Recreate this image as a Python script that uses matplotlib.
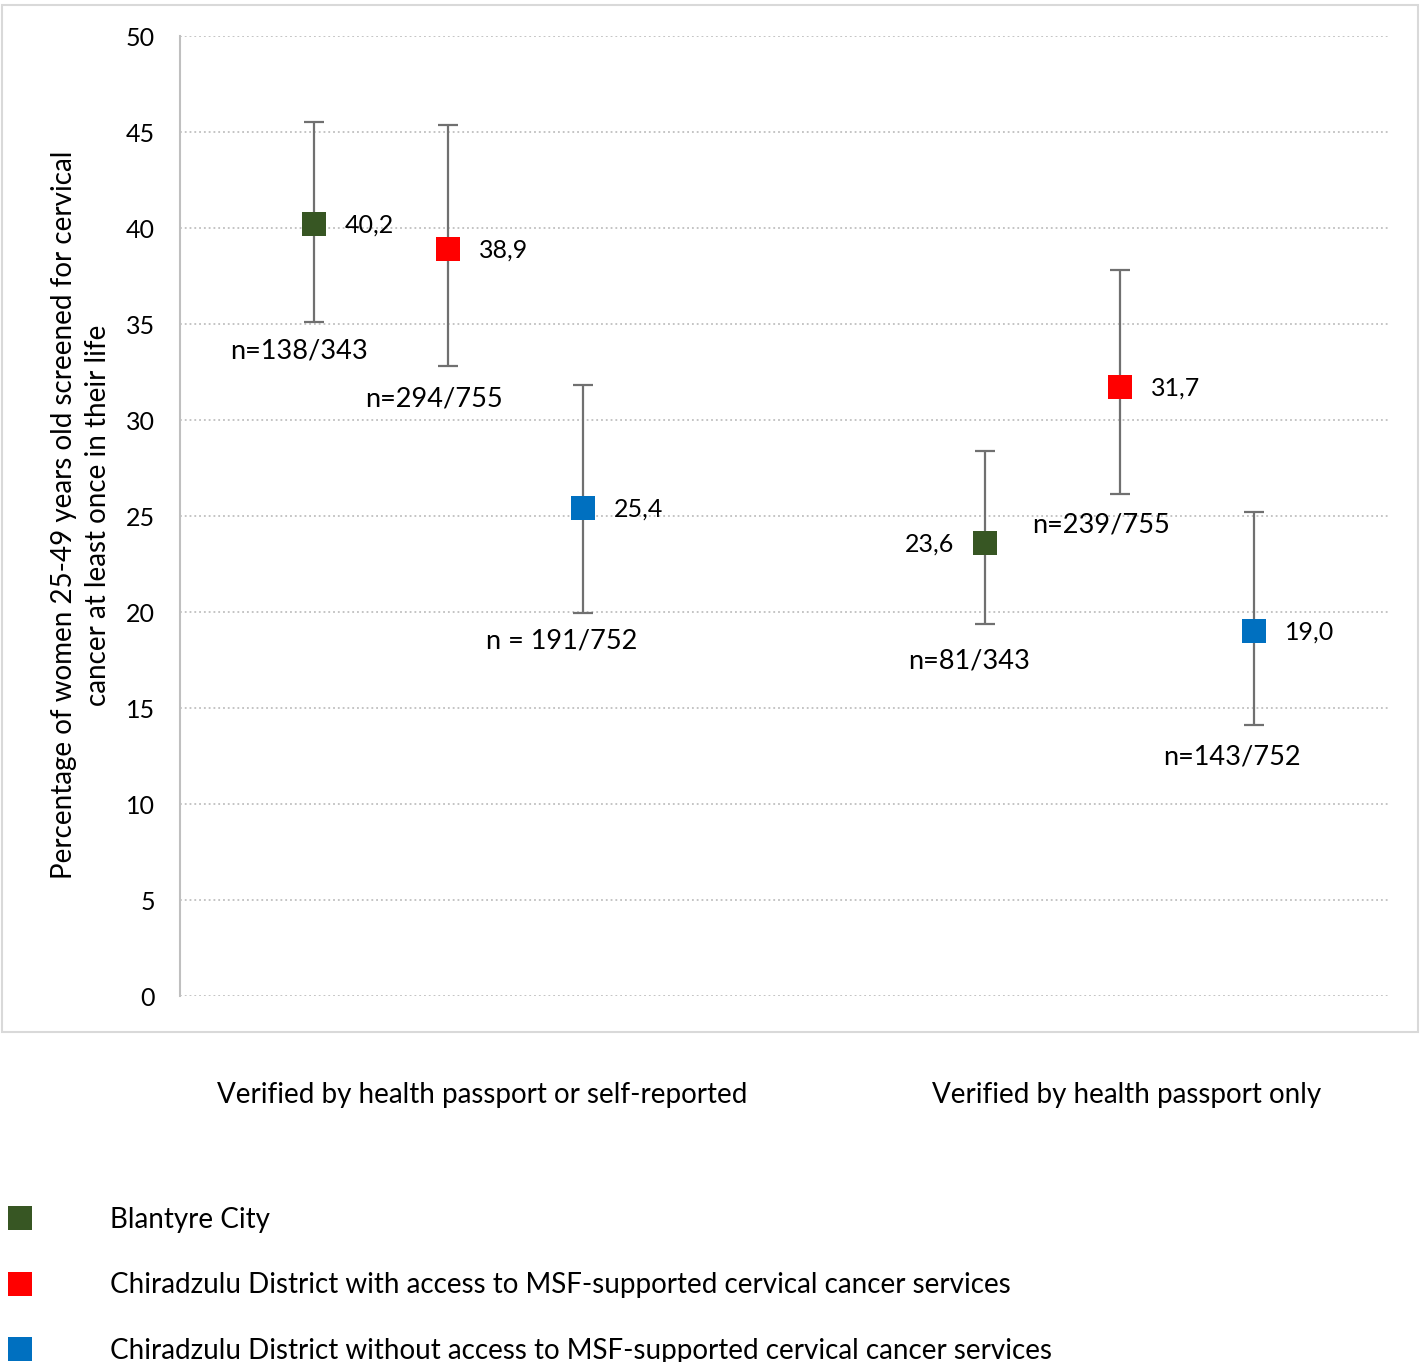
import matplotlib
matplotlib.use("Agg")
import matplotlib.pyplot as plt
from matplotlib.patches import Rectangle
import numpy as np

plt.rcParams['font.family'] = ['Lato', 'DejaVu Sans']

categories = ["Verified by health passport or self-reported", "Verified by health passport only"]
series_names = ["Blantyre City",
                "Chiradzulu District with access to MSF-supported cervical cancer services",
                "Chiradzulu District without access to MSF-supported cervical cancer services"]
values = [[40.2, 23.6], [38.9, 31.7], [25.4, 19.0]]
ci_low = [[35.1, 19.4], [32.8, 26.15], [19.95, 14.1]]
ci_high = [[45.5, 28.4], [45.35, 37.8], [31.8, 25.2]]
value_text = [["40,2", "23,6"], ["38,9", "31,7"], ["25,4", "19,0"]]
n_text = [["n=138/343", "n=81/343"], ["n=294/755", "n=239/755"], ["n = 191/752", "n=143/752"]]
yticks = [0, 5, 10, 15, 20, 25, 30, 35, 40, 45, 50]

colors = ['#375623', '#FF0000', '#0070C0']
# label offsets (pixels) relative to marker
val_off = [[(31, -1, 'left'), (-31, -1, 'right')], [(31, -1, 'left'), (31, -1, 'left')], [(31, -1, 'left'), (31, -1, 'left')]]
n_off = [[(-15, -127), (-16, -118)], [(-15, -150), (-19, -138)], [(-21, -133), (-22, -126)]]

W, H = 1424, 1362
fig = plt.figure(figsize=(W / 100, H / 100), dpi=100)
ax = fig.add_axes([180 / W, 1 - 996 / H, (1388 - 180) / W, (996 - 36) / H])

fig.patches.append(Rectangle((2 / W, 1 - 1032 / H), 1416 / W, 1027 / H, transform=fig.transFigure,
                             fill=False, edgecolor='#D9D9D9', linewidth=1.5))

handles = []
for s in range(3):
    xs = np.array([1 + s + 5 * c for c in range(2)], dtype=float)
    ys = np.array(values[s])
    lo = ys - np.array(ci_low[s])
    hi = np.array(ci_high[s]) - ys
    ax.errorbar(xs, ys, yerr=[lo, hi], fmt='none', ecolor='#707070',
                elinewidth=1.6, capsize=7, capthick=1.6, zorder=2)
    ln, = ax.plot(xs, ys, linestyle='none', marker='s', color=colors[s], ms=17, mew=0, zorder=3)
    handles.append(ln)
    for c in range(2):
        dx, dy, ha = val_off[s][c]
        ax.annotate(value_text[s][c], (xs[c], ys[c]), xytext=(dx, dy), textcoords='offset pixels',
                    ha=ha, va='center', fontsize=18, color='black')
        ndx, ndy = n_off[s][c]
        ax.annotate(n_text[s][c], (xs[c], ys[c]), xytext=(ndx, ndy), textcoords='offset pixels',
                    ha='center', va='center', fontsize=19.5, color='black')

ax.set_xlim(0, 9)
ax.set_ylim(0, 50)
ax.set_yticks(yticks)
ax.set_yticklabels([str(t) for t in yticks], fontsize=18)
ax.tick_params(axis='y', length=0, pad=18)
ax.set_xticks([2.25, 7.05])
ax.set_xticklabels(categories, fontsize=20)
ax.tick_params(axis='x', length=0, pad=62)
ax.grid(axis='y', linestyle=':', color='#BFBFBF', linewidth=1.3)
ax.set_axisbelow(True)
for sp in ['top', 'right', 'bottom']:
    ax.spines[sp].set_visible(False)
ax.spines['left'].set_color('#BFBFBF')
ax.spines['left'].set_linewidth(1.5)

fig.text(81 / W, 1 - 515 / H,
         "Percentage of women 25-49 years old screened for cervical\ncancer at least once in their life",
         rotation=90, ha='center', va='center', fontsize=20, linespacing=1.38)

fig.legend(handles, series_names, loc='upper left', bbox_to_anchor=(6 / W, 1 - 1207 / H),
           frameon=False, fontsize=20, handlelength=1, handletextpad=2.74, borderpad=0,
           borderaxespad=0, labelspacing=1.42)

fig.savefig('out.png', dpi=100)
